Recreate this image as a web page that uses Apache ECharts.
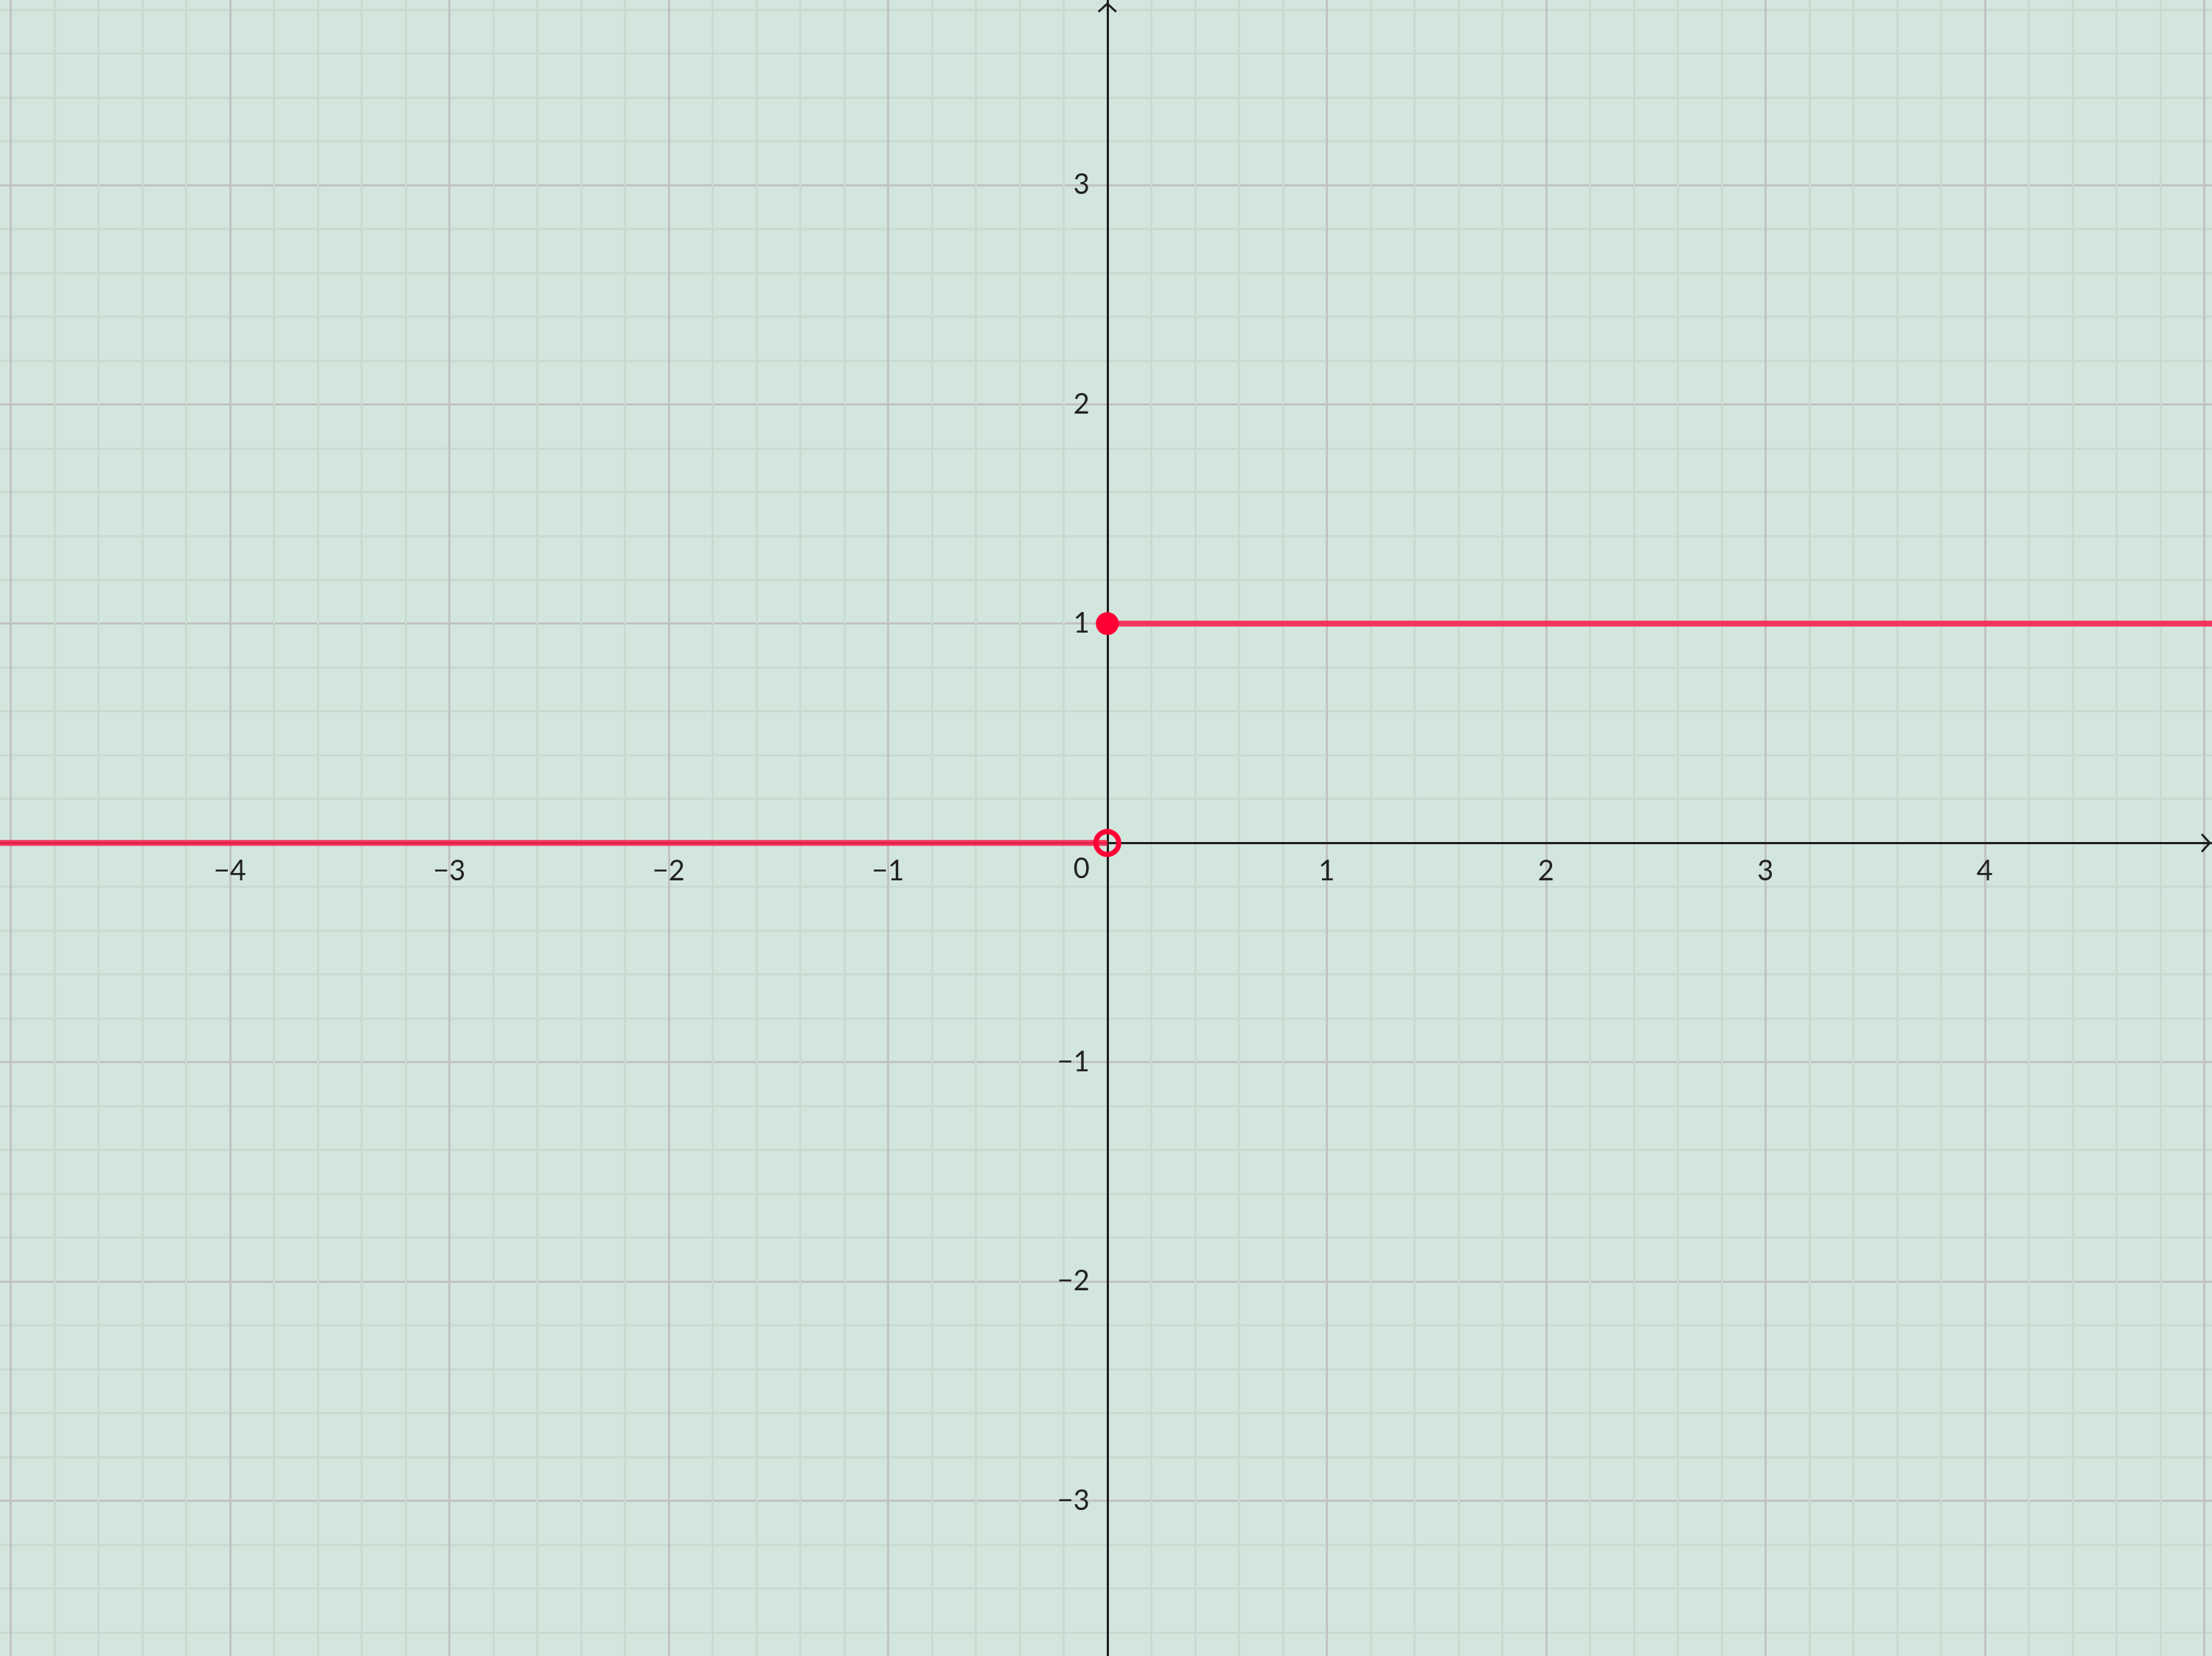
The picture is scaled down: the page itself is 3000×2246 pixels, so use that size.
<!DOCTYPE html>
<html><head><meta charset="utf-8">
<script src="https://cdn.jsdelivr.net/npm/echarts@6/dist/echarts.min.js"></script>
<style>html,body{margin:0;padding:0;background:#d2e6de}#c{width:3000px;height:2246px}</style>
</head><body><div id="c"></div>
<script>
// Heaviside step function data
const stepLeftX = [-6, 0];
const stepLeftY = [0, 0];
const stepRightX = [0, 6];
const stepRightY = [1, 1];
const closedPoint = [0, 1];
const openPoint = [0, 0];
const xTickLabels = [-4, -3, -2, -1, 1, 2, 3, 4];
const yTickLabels = [-3, -2, -1, 1, 2, 3];
const viewX = [-5.048, 5.036];
const viewY = [-3.707, 3.843];
const gridX = [-6, 6];
const gridY = [-4, 4];

const W = 3000, H = 2246;
const ux = W / (viewX[1] - viewX[0]);
const uy = H / (viewY[1] - viewY[0]);
const fmt = v => v < 0 ? '\u2212' + (-v) : String(v);
const RED = '#fa2450';
const AXC = '#1e1e1e';
const chevron = 'path://M13,0 L26,12 L24,14 L13,4 L2,14 L0,12 Z';
const FONT = 'Lato';
const MAJOR = '#c1c3c2';
const MINOR = '#c9dad1';

const chart = echarts.init(document.getElementById('c'), null, {renderer: 'canvas'});
chart.setOption({
  animation: false,
  backgroundColor: '#d2e6de',
  grid: [
    {left: -(viewX[0] - gridX[0]) * ux, right: -(gridX[1] - viewX[1]) * ux,
     top: -(gridY[1] - viewY[1]) * uy, bottom: -(viewY[0] - gridY[0]) * uy,
     containLabel: false, outerBoundsMode: 'none'},
    {left: 0, right: 0, top: 0, bottom: 0, containLabel: false, outerBoundsMode: 'none'}
  ],
  xAxis: [
    {type: 'value', gridIndex: 0, min: gridX[0], max: gridX[1], interval: 1,
     position: 'bottom', offset: -(0 - gridY[0]) * uy,
     axisLine: {show: false, onZero: false}, axisTick: {show: false},
     axisLabel: {show: true, fontSize: 38, fontFamily: FONT, color: '#222', margin: 20,
       formatter: v => xTickLabels.includes(v) ? fmt(v) : ''},
     splitLine: {show: true, lineStyle: {color: MAJOR, width: 3}},
     minorTick: {show: false, splitNumber: 5},
     minorSplitLine: {show: true, lineStyle: {color: MINOR, width: 3}}},
    {type: 'value', gridIndex: 1, min: viewX[0], max: viewX[1],
     axisLine: {show: true, onZero: true, onZeroAxisIndex: 1, symbol: ['none', chevron], symbolSize: [26, 14], symbolOffset: [0, -8],
       lineStyle: {color: AXC, width: 3}},
     axisTick: {show: false}, axisLabel: {show: false}, splitLine: {show: false}}
  ],
  yAxis: [
    {type: 'value', gridIndex: 0, min: gridY[0], max: gridY[1], interval: 1,
     position: 'left', offset: -(0 - gridX[0]) * ux,
     axisLine: {show: false, onZero: false}, axisTick: {show: false},
     axisLabel: {show: true, fontSize: 38, fontFamily: FONT, color: '#222', margin: 24,
       formatter: v => v === 0 ? '{z|0}' : (yTickLabels.includes(v) ? fmt(v) : ''),
       rich: {z: {fontSize: 38, fontFamily: FONT, color: '#222', padding: [72, 0, 0, 0]}}},
     splitLine: {show: true, lineStyle: {color: MAJOR, width: 3}},
     minorTick: {show: false, splitNumber: 5},
     minorSplitLine: {show: true, lineStyle: {color: MINOR, width: 3}}},
    {type: 'value', gridIndex: 1, min: viewY[0], max: viewY[1],
     axisLine: {show: true, onZero: true, onZeroAxisIndex: 1, symbol: ['none', chevron], symbolSize: [26, 14], symbolOffset: [0, -10],
       lineStyle: {color: AXC, width: 3}},
     axisTick: {show: false}, axisLabel: {show: false}, splitLine: {show: false}}
  ],
  series: [
    {type: 'line', xAxisIndex: 0, yAxisIndex: 0, showSymbol: false, silent: true,
     data: stepLeftX.map((x, i) => [x, stepLeftY[i]]),
     lineStyle: {color: RED, width: 8, opacity: 0.9}, z: 3},
    {type: 'line', xAxisIndex: 0, yAxisIndex: 0, showSymbol: false, silent: true,
     data: stepRightX.map((x, i) => [x, stepRightY[i]]),
     lineStyle: {color: RED, width: 8, opacity: 0.9}, z: 3},
    {type: 'scatter', xAxisIndex: 0, yAxisIndex: 0, silent: true, symbolSize: 31,
     data: [closedPoint], itemStyle: {color: '#ff0036', opacity: 1}, z: 4},
    {type: 'scatter', xAxisIndex: 0, yAxisIndex: 0, silent: true, symbolSize: 31,
     data: [openPoint], itemStyle: {color: 'rgba(0,0,0,0)', borderColor: '#ff0036', borderWidth: 7, opacity: 1}, z: 4}
  ]
});
</script></body></html>
